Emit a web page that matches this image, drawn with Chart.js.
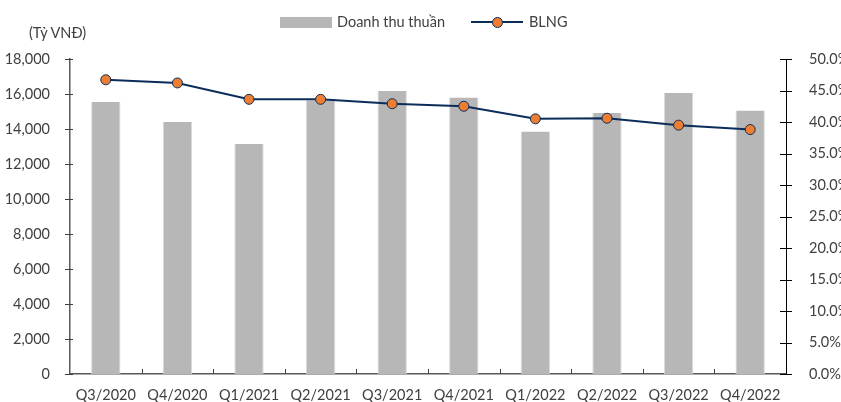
<!DOCTYPE html>
<html>
<head>
<meta charset="utf-8">
<script src="https://cdn.jsdelivr.net/npm/chart.js@4"></script>
<style>
  body { margin: 0; background: #fff; overflow: hidden; }
  #wrap { position: relative; width: 841px; height: 402px; font-family: Lato, sans-serif; color: #404040; }
  .lbl { position: absolute; font-size: 14.5px; line-height: 16px; white-space: nowrap; }
</style>
</head>
<body>
<div id="wrap">
  <canvas id="chart" width="841" height="402"></canvas>
  <div class="lbl" style="left:29px; top:25px;">(Tỷ VNĐ)</div>
  <div style="position:absolute; left:280px; top:17px; width:52px; height:11px; background:#b7b7b7;"></div>
  <div class="lbl" style="left:337px; top:14px;">Doanh thu thuần</div>
  <div style="position:absolute; left:471px; top:21px; width:52px; height:2px; background:#0c2d5a;"></div>
  <div style="position:absolute; left:492px; top:17px; width:9px; height:9px; border-radius:50%; background:#ed7d31; border:1px solid #0c2d5a;"></div>
  <div class="lbl" style="left:529px; top:14px;">BLNG</div>
</div>
<script>
const categories = ['Q3/2020', 'Q4/2020', 'Q1/2021', 'Q2/2021', 'Q3/2021', 'Q4/2021', 'Q1/2022', 'Q2/2022', 'Q3/2022', 'Q4/2022'];
const revenue = [15550, 14400, 13140, 15650, 16170, 15800, 13860, 14910, 16060, 15060];
const margin = [46.7, 46.2, 43.6, 43.6, 42.9, 42.5, 40.5, 40.6, 39.5, 38.8];

const font = { family: 'Lato, sans-serif', size: 14.5 };
const textColor = '#404040';

// tick marks crossing the axes, like the spreadsheet original
const tickMarks = {
  id: 'tickMarks',
  afterDraw(chart) {
    const { ctx, chartArea, scales } = chart;
    ctx.save();
    ctx.lineWidth = 1;
    ctx.strokeStyle = '#404040';
    scales.y.ticks.forEach((t, i) => {
      const y = Math.round(scales.y.getPixelForTick(i)) + 0.5;
      ctx.beginPath(); ctx.moveTo(chartArea.left - 5, y); ctx.lineTo(chartArea.left + 3, y); ctx.stroke();
    });
    ctx.strokeStyle = '#000';
    scales.y1.ticks.forEach((t, i) => {
      const y = Math.round(scales.y1.getPixelForTick(i)) + 0.5;
      ctx.beginPath(); ctx.moveTo(chartArea.right - 6, y); ctx.lineTo(chartArea.right + 6, y); ctx.stroke();
    });
    ctx.strokeStyle = '#404040';
    const step = (chartArea.right - chartArea.left) / categories.length;
    for (let i = 1; i < categories.length; i++) {
      const x = Math.round(chartArea.left + step * i) + 0.5;
      ctx.beginPath(); ctx.moveTo(x, chartArea.bottom - 5); ctx.lineTo(x, chartArea.bottom); ctx.stroke();
    }
    ctx.restore();
  }
};

new Chart(document.getElementById('chart'), {
  data: {
    labels: categories,
    datasets: [
      {
        type: 'line',
        label: 'BLNG',
        data: margin,
        yAxisID: 'y1',
        borderColor: '#0c2d5a',
        borderWidth: 2,
        pointBackgroundColor: '#ed7d31',
        pointBorderColor: '#0c2d5a',
        pointBorderWidth: 1,
        pointRadius: 5,
        tension: 0,
        order: 0
      },
      {
        type: 'bar',
        label: 'Doanh thu thuần',
        data: revenue,
        yAxisID: 'y',
        backgroundColor: '#b7b7b7',
        borderColor: '#d9d9d9',
        borderWidth: { right: 1, left: 1, top: 0, bottom: 0 },
        barPercentage: 0.41,
        categoryPercentage: 1,
        order: 1
      }
    ]
  },
  plugins: [tickMarks],
  options: {
    responsive: false,
    animation: false,
    layout: { padding: { top: 59, left: 0, right: 0, bottom: 0 } },
    plugins: { legend: { display: false }, tooltip: { enabled: false } },
    scales: {
      x: {
        offset: true,
        grid: { display: false },
        border: { display: true, color: '#595959', width: 1.5 },
        ticks: { font, color: textColor, padding: 5, maxRotation: 0 },
        afterFit(s) { s.height = 28; }
      },
      y: {
        position: 'left',
        min: 0, max: 18000,
        grid: { display: false },
        border: { display: true, color: '#595959', width: 1.5 },
        ticks: { stepSize: 2000, font, color: textColor, padding: 12,
          callback: v => v.toLocaleString('en-US') },
        afterFit(s) { s.width = 70; }
      },
      y1: {
        position: 'right',
        min: 0, max: 50,
        grid: { display: false },
        border: { display: true, color: '#000', width: 1 },
        ticks: { stepSize: 5, font, color: textColor, padding: 15,
          callback: v => v.toFixed(1) + '%' },
        afterFit(s) { s.width = 55; }
      }
    }
  }
});
</script>
</body>
</html>
